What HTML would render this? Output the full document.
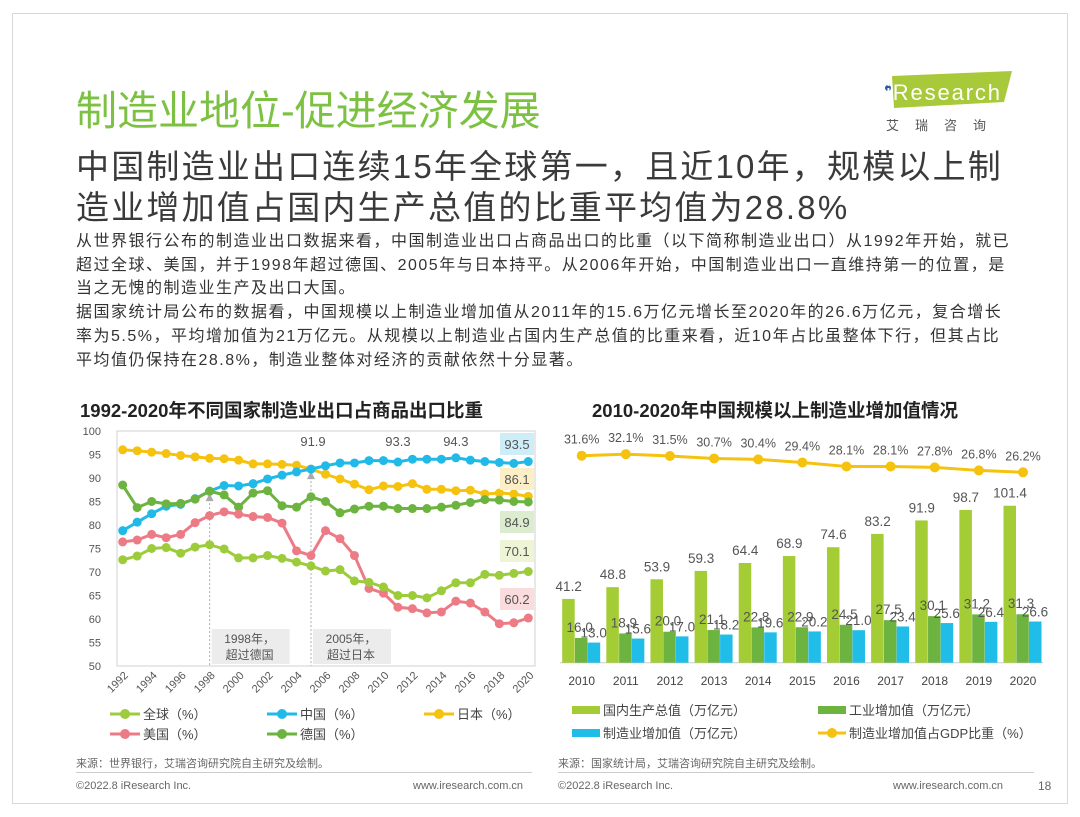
<!DOCTYPE html>
<html><head><meta charset="utf-8">
<style>
*{margin:0;padding:0;box-sizing:border-box}
body{width:1080px;height:817px;background:#fff;font-family:"Liberation Sans","Noto Sans CJK SC",sans-serif;position:relative;overflow:hidden;color:#333}
.frame{position:absolute;left:12px;top:13px;width:1056px;height:791px;border:1px solid #d8d8d8}
.abs{position:absolute;white-space:nowrap}
#title{left:76px;top:77px;font-size:41px;color:#7dc142;letter-spacing:0px}
.sub{left:76px;font-size:33px;color:#3a3a3a;letter-spacing:2.2px}
.body{left:76px;font-size:16px;color:#333;letter-spacing:1.5px}
.ct{font-size:18.5px;font-weight:bold;color:#222}
.src{font-size:11px;color:#666}
.foot{font-size:11px;color:#666}
svg text{font-family:"Liberation Sans","Noto Sans CJK SC",sans-serif}
</style></head><body>
<div class="frame"></div>
<div id="title" class="abs">制造业地位-促进经济发展</div>
<svg class="abs" style="left:880px;top:68px" width="140" height="68">
<polygon points="12,8 132,3 124,34 14,40" fill="#a8c93a"/>
<circle cx="8" cy="20" r="3" fill="#2a5aa0"/>
<text x="6" y="32" font-size="22" fill="#fff" textLength="114">iResearch</text>
<text x="6" y="62" font-size="13" fill="#555" letter-spacing="16">艾瑞咨询</text>
</svg>
<div class="abs sub" style="top:140px">中国制造业出口连续15年全球第一，且近10年，规模以上制</div>
<div class="abs sub" style="top:181px">造业增加值占国内生产总值的比重平均值为28.8%</div>
<div class="abs body" style="top:227px">从世界银行公布的制造业出口数据来看，中国制造业出口占商品出口的比重（以下简称制造业出口）从1992年开始，就已</div>
<div class="abs body" style="top:251px">超过全球、美国，并于1998年超过德国、2005年与日本持平。从2006年开始，中国制造业出口一直维持第一的位置，是</div>
<div class="abs body" style="top:274px">当之无愧的制造业生产及出口大国。</div>
<div class="abs body" style="top:298px">据国家统计局公布的数据看，中国规模以上制造业增加值从2011年的15.6万亿元增长至2020年的26.6万亿元，复合增长</div>
<div class="abs body" style="top:322px">率为5.5%，平均增加值为21万亿元。从规模以上制造业占国内生产总值的比重来看，近10年占比虽整体下行，但其占比</div>
<div class="abs body" style="top:346px">平均值仍保持在28.8%，制造业整体对经济的贡献依然十分显著。</div>
<div class="abs ct" style="left:80px;top:397px">1992-2020年不同国家制造业出口占商品出口比重</div>
<div class="abs ct" style="left:592px;top:397px">2010-2020年中国规模以上制造业增加值情况</div>
<svg id="lc" class="abs" style="left:0;top:0" width="1080" height="817"></svg>
<div class="abs src" style="left:76px;top:755px">来源：世界银行，艾瑞咨询研究院自主研究及绘制。</div>
<div class="abs src" style="left:558px;top:755px">来源：国家统计局，艾瑞咨询研究院自主研究及绘制。</div>
<div style="position:absolute;left:76px;top:772px;width:456px;border-top:1px solid #ccc"></div>
<div style="position:absolute;left:558px;top:772px;width:476px;border-top:1px solid #ccc"></div>
<div class="abs foot" style="left:76px;top:780px">©2022.8 iResearch Inc.</div>
<div class="abs foot" style="left:413px;top:780px">www.iresearch.com.cn</div>
<div class="abs foot" style="left:558px;top:780px">©2022.8 iResearch Inc.</div>
<div class="abs foot" style="left:893px;top:780px">www.iresearch.com.cn</div>
<div class="abs foot" style="left:1038px;top:779px;font-size:12px">18</div>
<script>
const years = [];for(let y=1992;y<=2020;y++)years.push(y);
const japan=[96,95.8,95.5,95.2,94.8,94.5,94.2,94.1,93.8,93,93,92.9,92.7,91.9,90.8,89.8,88.7,87.5,88.3,88.2,88.8,87.6,87.6,87.3,87.4,86.6,86.8,86.6,86.1];
const china=[78.8,80.6,82.4,84,84.4,85.6,87.2,88.4,88.3,88.8,89.8,90.6,91.3,91.9,92.6,93.2,93.2,93.7,93.7,93.4,94,94,94,94.3,93.8,93.5,93.3,93.1,93.5];
const germany=[88.5,83.7,85,84.5,84.6,85.5,87.2,86.4,83.8,86.8,87.3,84.1,83.8,86,85,82.6,83.4,84,84,83.5,83.5,83.5,83.8,84.2,84.8,85.4,85.3,85,84.9];
const usa=[76.4,76.8,78,77.3,78,80.5,82,82.8,82.3,81.8,81.6,80.4,74.5,73.5,78.8,77.1,73.5,66.5,65.5,62.5,62.2,61.3,61.5,63.8,63.4,61.5,59,59.2,60.2];
const world=[72.6,73.4,75,75.2,74,75.3,75.8,74.9,73,73,73.5,72.9,72.1,71.3,70.2,70.5,68.1,67.8,66.8,65,65,64.5,66,67.7,67.7,69.5,69.3,69.7,70.1];
const yTicks=[50,55,60,65,70,75,80,85,90,95,100];
const cYears=[2010,2011,2012,2013,2014,2015,2016,2017,2018,2019,2020];
const gdp=[41.2,48.8,53.9,59.3,64.4,68.9,74.6,83.2,91.9,98.7,101.4];
const ind=[16.0,18.9,20.0,21.1,22.8,22.9,24.5,27.5,30.1,31.2,31.3];
const mfg=[13.0,15.6,17.0,18.2,19.6,20.2,21.0,23.4,25.6,26.4,26.6];
const share=[31.6,32.1,31.5,30.7,30.4,29.4,28.1,28.1,27.8,26.8,26.2];

const svg=document.getElementById('lc');const NS='http://www.w3.org/2000/svg';
function mk(t,a,p){const e=document.createElementNS(NS,t);for(const k in a)e.setAttribute(k,a[k]);(p||svg).appendChild(e);return e;}
function tx(x,y,s,a,p){const e=mk('text',Object.assign({x:x,y:y},a),p);e.textContent=s;return e;}
const L={x0:117,x1:535,y0:666,y1:431};
const lx=i=>122.7+i*(528.3-122.7)/28;
const ly=v=>L.y0-(v-50)/50*(L.y0-L.y1);
mk('rect',{x:L.x0,y:L.y1,width:L.x1-L.x0,height:L.y0-L.y1,fill:'none',stroke:'#d0d0d0'});
yTicks.forEach(v=>{const t=tx(101,ly(v)+4,v,{'font-size':11,fill:'#555','text-anchor':'end'});});
years.forEach((y,i)=>{if(i%2==0){const t=tx(0,0,y,{'font-size':11,fill:'#555','text-anchor':'end',transform:`translate(${lx(i)+6},${L.y0+10}) rotate(-45)`});}});
[[6,'1998年，','超过德国'],[13,'2005年，','超过日本']].forEach(([i,a,b])=>{
 const x=lx(i);const yy=ly(i==6?china[i]:91.9);
 mk('line',{x1:x,y1:yy+8,x2:x,y2:L.y0,stroke:'#aaa','stroke-dasharray':'2,2'});
 mk('polygon',{points:`${x-4},${yy+10} ${x+4},${yy+10} ${x},${yy+2}`,fill:'#aaa'});
 mk('rect',{x:x+2,y:629,width:78,height:35,fill:'#ececec'});
 tx(x+40,643,a,{'font-size':12,fill:'#555','text-anchor':'middle'});tx(x+40,659,b,{'font-size':12,fill:'#555','text-anchor':'middle'});
});
const series=[['japan',japan,'#f5c20f'],['china',china,'#20b9e8'],['germany',germany,'#6cb33f'],['usa',usa,'#ec7b86'],['world',world,'#9ccc3c']];
series.forEach(([n,d,c])=>{
 const g=mk('g',{});
 mk('polyline',{points:d.map((v,i)=>lx(i)+','+ly(v)).join(' '),fill:'none',stroke:c,'stroke-width':3},g);
 d.forEach((v,i)=>{const p=mk('circle',{cx:lx(i),cy:ly(v),r:4.5,fill:c},g);});
});
tx(lx(13)+2,446,'91.9',{'font-size':13,fill:'#555','text-anchor':'middle'});
tx(lx(19),446,'93.3',{'font-size':13,fill:'#555','text-anchor':'middle'});
tx(lx(23),446,'94.3',{'font-size':13,fill:'#555','text-anchor':'middle'});
[[china[28],'#cdeef9',433,'93.5'],[japan[28],'#fcefc8',468,'86.1'],[germany[28],'#dbeccf',511,'84.9'],[world[28],'#eef5d6',540,'70.1'],[usa[28],'#fadcdf',588,'60.2']].forEach(([v,bg,y,s])=>{
 mk('rect',{x:500,y:y,width:34,height:22,fill:bg});tx(517,y+16,s,{'font-size':13,fill:'#555','text-anchor':'middle'});
});
[[0,'全球（%）','#9ccc3c',110,714],[1,'中国（%）','#20b9e8',267,714],[2,'日本（%）','#f5c20f',424,714],[3,'美国（%）','#ec7b86',110,734],[4,'德国（%）','#6cb33f',267,734]].forEach(([k,s,c,x,y])=>{
 const g=mk('g',{});
 mk('line',{x1:x,y1:y,x2:x+30,y2:y,stroke:c,'stroke-width':3},g);mk('circle',{cx:x+15,cy:y,r:5,fill:c},g);
 tx(x+33,y+5,s,{'font-size':13,fill:'#444'},g);
});
const R={base:662.7,k:1.548};
const cx=i=>581.7+i*44.13;
const by=v=>R.base-v*R.k;
const sy=v=>455.7-(v-31.6)*3.07;
mk('line',{x1:560,y1:R.base,x2:1043,y2:R.base,stroke:'#ccc'});
cYears.forEach((y,i)=>{
 [[gdp,'#a3cc35',-19.5,'bar-gdp'],[ind,'#6cb33f',-6.7,'bar-industry'],[mfg,'#1fbde8',6,'bar-manufacturing']].forEach(([d,c,o,n])=>{
  const r=mk('rect',{x:cx(i)+o,y:by(d[i]),width:12.5,height:d[i]*R.k,fill:c});
 });
 tx(cx(i)-13,by(gdp[i])-8,gdp[i].toFixed(1),{'font-size':13.5,fill:'#555','text-anchor':'middle'});
 tx(cx(i)-2,by(ind[i])-6,ind[i].toFixed(1),{'font-size':13.5,fill:'#555','text-anchor':'middle'});
 tx(cx(i)+12,by(mfg[i])-5,mfg[i].toFixed(1),{'font-size':13.5,fill:'#555','text-anchor':'middle'});
 const t=tx(cx(i),685,y,{'font-size':12,fill:'#444','text-anchor':'middle'});
 tx(cx(i),sy(share[i])-12,share[i].toFixed(1)+'%',{'font-size':12.5,fill:'#555','text-anchor':'middle'});
});
const sl=mk('polyline',{points:share.map((v,i)=>cx(i)+','+sy(v)).join(' '),fill:'none',stroke:'#f5c20f','stroke-width':3});

share.forEach((v,i)=>{const p=mk('circle',{cx:cx(i),cy:sy(v),r:5,fill:'#f5c20f'});});
[['国内生产总值（万亿元）','#a3cc35',572,710,0],['工业增加值（万亿元）','#6cb33f',818,710,0],['制造业增加值（万亿元）','#1fbde8',572,733,0],['制造业增加值占GDP比重（%）','#f5c20f',818,733,1]].forEach(([s,c,x,y,ln])=>{
 const g=mk('g',{});
 if(ln){mk('line',{x1:x,y1:y,x2:x+28,y2:y,stroke:c,'stroke-width':3},g);mk('circle',{cx:x+14,cy:y,r:5,fill:c},g);}
 else mk('rect',{x:x,y:y-4,width:28,height:8,fill:c},g);
 tx(x+31,y+5,s,{'font-size':13,fill:'#444'},g);
});
</script>
</body></html>
